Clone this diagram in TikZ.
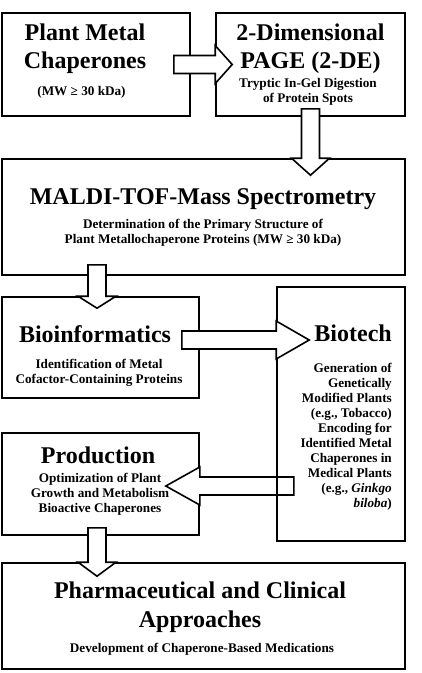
\documentclass[tikz,border=0pt]{standalone}
\usepackage{fontspec}
\setmainfont{Liberation Serif}
\usepackage{tikz}
\usetikzlibrary{calc}

\newcommand{\blockarrow}[3][16pt]{%
  \draw[arrowbody] let \p1=(#2), \p2=(#3), \n1={atan2(\y2-\y1,\x2-\x1)} in
    ($(\p1)+(\n1+90:9pt)$) -- ($(\p2)+(\n1+180:#1)+(\n1+90:9pt)$) --
    ($(\p2)+(\n1+180:#1)+(\n1+90:19pt)$) -- (\p2) --
    ($(\p2)+(\n1+180:#1)+(\n1-90:19pt)$) --
    ($(\p2)+(\n1+180:#1)+(\n1-90:9pt)$) --
    ($(\p1)+(\n1-90:9pt)$) -- cycle;}

\begin{document}
\begin{tikzpicture}[
     x=1pt,y=-1pt,
     panel/.style={draw,line width=1.6pt,inner sep=0pt},
     arrowbody/.style={draw,fill=white,line width=1.6pt,line join=miter},
     boxtitle/.style={font=\bfseries\fontsize{24}{28}\selectfont,align=center,inner sep=0pt,anchor=north},
     boxnote/.style={font=\bfseries\fontsize{13.2}{15}\selectfont,align=center,inner sep=0pt,anchor=north}
   ]
   \useasboundingbox (0,0) rectangle (421,673);
   % Boxes.
   \node[panel,minimum width=188pt,minimum height=103pt] (chap) at (96,64.5) {};
   \node[panel,minimum width=189pt,minimum height=103pt] (page) at (310.5,64.5) {};
   \node[panel,minimum width=403pt,minimum height=116pt] (maldi) at (203.5,217) {};
   \node[panel,minimum width=197pt,minimum height=101pt] (bioinf) at (100.5,347.5) {};
   \node[panel,minimum width=197pt,minimum height=102pt] (prod) at (100.5,484) {};
   \node[panel,minimum width=403pt,minimum height=106pt] (pharma) at (203.5,616) {};
   % Back to production, under the biotech box.
   \coordinate (biotechout) at ($(prod.east)+(94pt,-2pt)$);
   \coordinate (prodin) at ($(prod.east)+(-34pt,-2pt)$);
   \blockarrow[34pt]{biotechout}{prodin}
   \node[panel,minimum width=128pt,minimum height=254pt] (biotech) at (341,414) {};
   % Arrows.
   \coordinate (chapout) at ([xshift=-17pt]chap.east);
   \coordinate (pagein) at ([xshift=17pt]page.west);
   \coordinate (pageout) at ([yshift=8pt]page.south);
   \coordinate (maldiin) at ($(page.south |- maldi.north)+(0pt,-17pt)$);
   \coordinate (maldiout) at ($(maldi.south -| bioinf.north)+(-3.5pt,11pt)$);
   \coordinate (bioinfin) at ($(bioinf.north)+(-3.5pt,-12pt)$);
   \coordinate (bioinfout) at ($(bioinf.east)+(-18pt,7.5pt)$);
   \coordinate (biotechin) at ($(biotech.west |- bioinfout)+(33pt,0pt)$);
   \coordinate (prodout) at ($(prod.south)+(-3.5pt,8pt)$);
   \coordinate (pharmain) at ($(prod.south |- pharma.north)+(-3.5pt,-14pt)$);
   \blockarrow[17pt]{chapout}{pagein}
   \blockarrow[17pt]{pageout}{maldiin}
   \blockarrow[12pt]{maldiout}{bioinfin}
   \blockarrow[33pt]{bioinfout}{biotechin}
   \blockarrow[14pt]{prodout}{pharmain}
   % Texts.
   \node[boxtitle] (chaptitle) at (85,24) {Plant Metal\\Chaperones};
   \node[boxnote] (chapnote) at (81.5,86) {(MW ≥ 30 kDa)};
   \node[boxtitle] (pagetitle) at (310.5,24) {2-Dimensional\\PAGE (2-DE)};
   \node[boxnote] (pagenote) at (308,78) {Tryptic In-Gel Digestion\\of Protein Spots};
   \node[boxtitle] (maldititle) at (203,188) {MALDI-TOF-Mass Spectrometry};
   \node[boxnote] (maldinote) at (203,219)
     {Determination of the Primary Structure of\\Plant Metallochaperone Proteins (MW ≥ 30 kDa)};
   \node[boxtitle] (bioinftitle) at (95,325) {Bioinformatics};
   \node[boxnote] (bioinfnote) at (99,359) {Identification of Metal\\Cofactor-Containing Proteins};
   \node[boxtitle,anchor=north east] (biotechtitle) at (392,325) {Biotech};
   \node[boxnote,anchor=north east,align=right] (biotechnote) at (392,363)
     {Generation of\\Genetically\\Modified Plants\\(e.g., Tobacco)\\Encoding for\\Identified Metal\\Chaperones in\\Medical Plants\\(e.g., \textit{Ginkgo}\\\textit{biloba})};
   \node[boxtitle] (prodtitle) at (98,447) {Production};
   \node[boxnote] (prodnote) at (100,473) {Optimization of Plant\\Growth and Metabolism\\Bioactive Chaperones};
   \node[boxtitle] (pharmatitle) at (200,582) {Pharmaceutical and Clinical\\[1pt]Approaches};
   \node[boxnote] (pharmanote) at (202,643) {Development of Chaperone-Based Medications};
 \end{tikzpicture}
\end{document}
